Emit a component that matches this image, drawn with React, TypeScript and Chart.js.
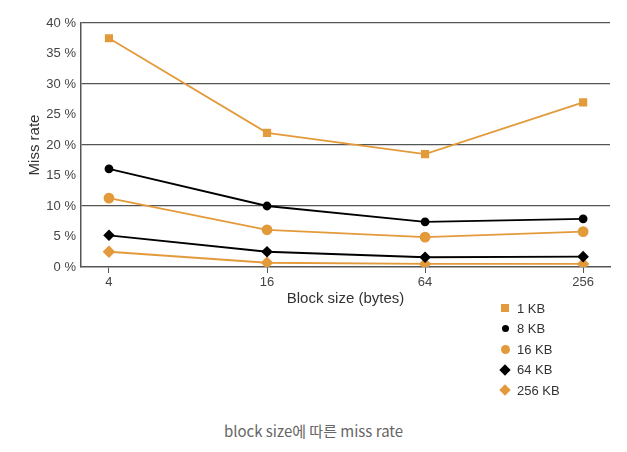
import { useEffect, useRef } from "react"
import { Chart, registerables } from "chart.js"

Chart.register(...registerables)

const blockSizes = ["4", "16", "64", "256"]
const seriesNames = ["1 KB", "8 KB", "16 KB", "64 KB", "256 KB"]
const kb1 = [37.5, 22, 18.5, 27]
const kb8 = [16.1, 10, 7.4, 7.9]
const kb16 = [11.3, 6.1, 4.9, 5.8]
const kb64 = [5.2, 2.5, 1.6, 1.7]
const kb256 = [2.5, 0.7, 0.5, 0.5]

const ORANGE = "#E39A3B"
const BLACK = "#000000"
const colors = [ORANGE, BLACK, ORANGE, BLACK, ORANGE]
const styles = ["rect", "circle", "circle", "rectRot", "rectRot"]
const radii = [4.5, 3.5, 4.5, 4.5, 5]
const values = [kb1, kb8, kb16, kb64, kb256]

export default function App() {
  const chartRef = useRef<HTMLCanvasElement>(null)

  useEffect(() => {
    if (!chartRef.current) return
    const ctx = chartRef.current.getContext("2d")
    if (!ctx) return

    const chart = new Chart(ctx, {
      type: "line",
      data: {
        datasets: values.map((vals, i) => ({
          label: seriesNames[i],
          data: vals.map((v, j) => ({ x: j, y: v })),
          borderColor: colors[i],
          backgroundColor: colors[i],
          pointStyle: styles[i] as any,
          pointRadius: radii[i],
          borderWidth: 1.8,
        })),
      },
      options: {
        animation: false,
        responsive: true,
        maintainAspectRatio: false,
        layout: { padding: { top: 23, right: 17, left: 22, bottom: 0 } },
        plugins: { legend: { display: false }, tooltip: { enabled: false } },
        scales: {
          x: {
            type: "linear",
            min: -0.177,
            max: 3.17,
            afterBuildTicks: (s: any) => {
              s.ticks = blockSizes.map((_, i) => ({ value: i }))
            },
            afterFit: (s: any) => {
              s.height = 45
            },
            ticks: {
              callback: (v: any) => blockSizes[v] ?? "",
              color: "#444",
              font: { family: "Liberation Sans", size: 13 },
              padding: 2,
            },
            grid: { drawOnChartArea: false, tickLength: 6, color: "#555" },
            border: { color: "#555", width: 1.5 },
            title: {
              display: true,
              text: "Block size (bytes)",
              color: "#333",
              font: { family: "Liberation Sans", size: 15 },
              padding: { top: 6 },
            },
          },
          y: {
            min: 0,
            max: 40,
            afterFit: (s: any) => {
              s.width = 59
            },
            ticks: {
              stepSize: 5,
              callback: (v: any) => `${v} %`,
              color: "#444",
              font: { family: "Liberation Sans", size: 13 },
              padding: 5,
            },
            grid: {
              drawTicks: false,
              color: (c: any) =>
                c.tick && c.tick.value % 10 === 0 && c.tick.value > 0 ? "#555" : "rgba(0,0,0,0)",
              lineWidth: 1.2,
            },
            border: { color: "#555", width: 1.5 },
            title: {
              display: true,
              text: "Miss rate",
              color: "#333",
              font: { family: "Liberation Sans", size: 15 },
              padding: { bottom: 0 },
            },
          },
        },
      },
    } as any)

    return () => chart.destroy()
  }, [])

  return (
    <div style={{ position: "fixed", left: 0, top: 0, width: 627, height: 452, background: "#fff" }}>
      <div style={{ position: "absolute", left: 0, top: 0, width: 627, height: 312 }}>
        <canvas ref={chartRef} />
      </div>
      <div style={{ position: "absolute", left: 493, top: 298, fontFamily: "Liberation Sans", fontSize: 13, color: "#333" }}>
        {seriesNames.map((name, i) => (
          <div key={name} style={{ display: "flex", alignItems: "center", height: 20.5 }}>
            <span style={{ width: 24, display: "inline-flex", justifyContent: "center" }}>
              <span
                style={{
                  width: styles[i] === "circle" ? (i === 1 ? 7 : 9) : 8,
                  height: styles[i] === "circle" ? (i === 1 ? 7 : 9) : 8,
                  background: colors[i],
                  borderRadius: styles[i] === "circle" ? "50%" : 0,
                  transform: styles[i] === "rectRot" ? "rotate(45deg)" : "none",
                }}
              />
            </span>
            <span>{name}</span>
          </div>
        ))}
      </div>
      <div
        style={{
          position: "absolute",
          left: 0,
          width: 627,
          top: 420,
          textAlign: "center",
          fontFamily: "'Noto Sans CJK KR', 'Noto Sans'",
          fontSize: 15,
          color: "#666",
        }}
      >
        block size에 따른 miss rate
      </div>
    </div>
  )
}
